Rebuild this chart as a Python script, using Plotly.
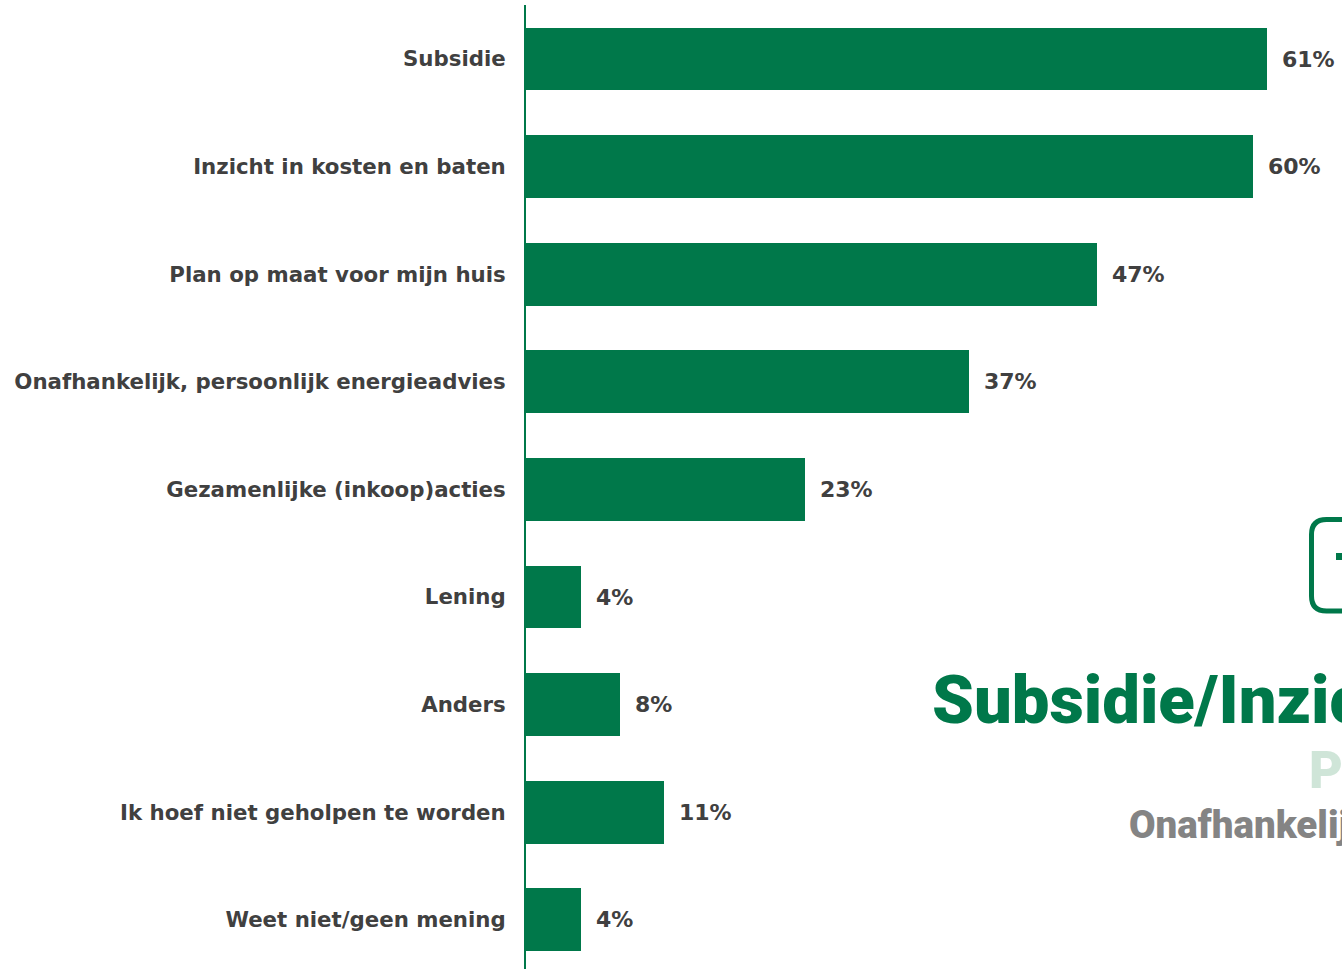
import plotly.graph_objects as go

categories = [
    "Subsidie",
    "Inzicht in kosten en baten",
    "Plan op maat voor mijn huis",
    "Onafhankelijk, persoonlijk energieadvies",
    "Gezamenlijke (inkoop)acties",
    "Lening",
    "Anders",
    "Ik hoef niet geholpen te worden",
    "Weet niet/geen mening",
]
values = [60.9, 59.7, 46.9, 36.4, 22.9, 4.5, 7.7, 11.3, 4.5]
value_labels = ["61%", "60%", "47%", "37%", "23%", "4%", "8%", "11%", "4%"]

GREEN = "#00784A"
TEXT = "#404040"
W, H = 1342, 969
ML, MT, MB, MR = 526, 5, 0, 0
PW, PH = W - ML - MR, H - MT - MB

def px(x):
    return (x - ML) / PW

def py(y):
    return 1 - (y - MT) / PH

fig = go.Figure()
fig.add_trace(go.Bar(
    x=values, y=list(range(len(categories))), orientation="h",
    marker=dict(color=GREEN, line=dict(width=0)), width=0.585,
    hoverinfo="skip",
))

annotations = []
for i, (v, lab) in enumerate(zip(values, value_labels)):
    annotations.append(dict(
        x=v, y=i, xref="x", yref="y", text=lab, showarrow=False,
        xanchor="left", yanchor="middle", xshift=13,
        font=dict(family="DejaVu Sans", size=22, color=TEXT, weight="bold"),
    ))

# decorative overlay texts (cropped slide content)
annotations += [
    dict(x=px(930), y=py(700), xref="paper", yref="paper",
         text="Subsidie/Inzicht in kosten en baten", showarrow=False,
         xanchor="left", yanchor="middle",
         font=dict(family="Roboto", size=67, color=GREEN, weight=900)),
    dict(x=px(1307), y=py(770), xref="paper", yref="paper",
         text="Plan op maat voor mijn huis", showarrow=False,
         xanchor="left", yanchor="middle",
         font=dict(family="Roboto", size=52, color="#CFE5D8", weight=900)),
    dict(x=px(1127), y=py(824), xref="paper", yref="paper",
         text="Onafhankelijk, persoonlijk energieadvies", showarrow=False,
         xanchor="left", yanchor="middle",
         font=dict(family="Roboto", size=38.5, color="#848484", weight=900)),
]

# rounded box outline at right edge
x0, x1 = px(1311.5), px(1420)
yt, yb = py(519.5), py(611)
rx, ry = 15 / PW, 15 / PH
path = (f"M {x1},{yt} L {x0+rx},{yt} Q {x0},{yt} {x0},{yt-ry} "
        f"L {x0},{yb+ry} Q {x0},{yb} {x0+rx},{yb} L {x1},{yb}")
shapes = [
    dict(type="path", path=path, xref="paper", yref="paper",
         line=dict(color=GREEN, width=5)),
    dict(type="rect", xref="paper", yref="paper",
         x0=px(1336), x1=px(1350), y0=py(560), y1=py(553),
         fillcolor=GREEN, line=dict(width=0)),
]

step = 107.6
c0 = 59.0
y_top = (MT - c0) / step
y_bot = (MT + PH - c0) / step

fig.update_layout(
    width=W, height=H,
    margin=dict(l=ML, r=MR, t=MT, b=MB, pad=0),
    paper_bgcolor="white", plot_bgcolor="white",
    showlegend=False,
    bargap=0,
    annotations=annotations,
    shapes=shapes,
    xaxis=dict(range=[0, PW / 12.17], visible=False, showgrid=False, zeroline=False),
    yaxis=dict(
        range=[y_bot, y_top],
        tickmode="array", tickvals=list(range(len(categories))), ticktext=categories,
        showgrid=False, zeroline=False,
        showline=True, linecolor=GREEN, linewidth=2,
        ticks="", ticklabelstandoff=14, automargin=False,
        tickfont=dict(family="DejaVu Sans", size=21.3, color=TEXT, weight="bold"),
    ),
)

fig.write_html(
    "out.html",
    config={"displayModeBar": False},
    post_script="document.body.style.margin='0';document.body.style.overflow='hidden';",
)
